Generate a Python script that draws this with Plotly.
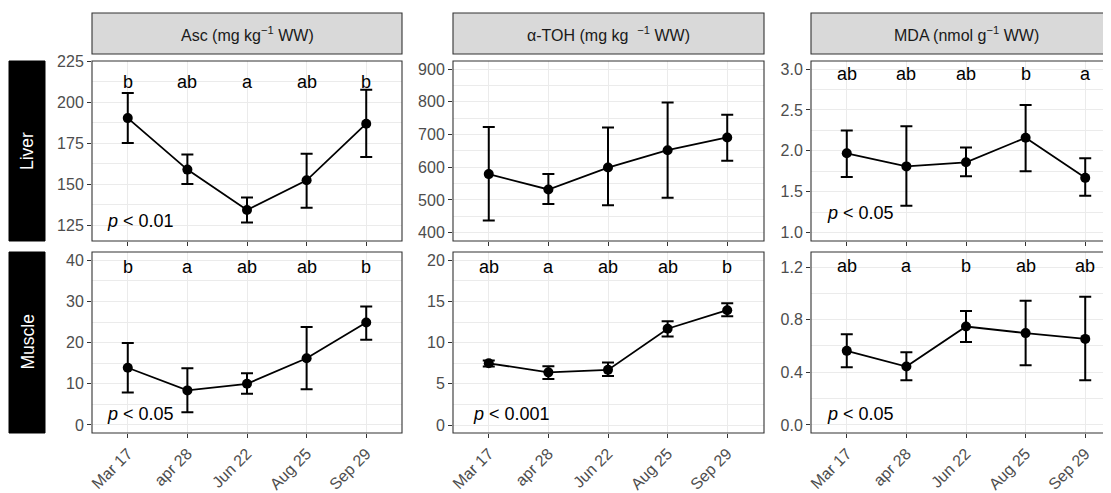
import plotly.graph_objects as go

# page has an 8px body margin; figure sized so it fills the 1111x493 view
OFF = 8
W, H = 1111 - OFF, 493 - OFF

dates = ["Mar 17", "apr 28", "Jun 22", "Aug 25", "Sep 29"]
xpos = [1, 2, 3, 4, 5]

# Liver
asc_liver_mean = [190.2, 158.8, 134.2, 152.3, 186.8]
asc_liver_low = [175.0, 150.0, 126.5, 135.5, 166.5]
asc_liver_high = [205.5, 168.0, 141.8, 168.5, 207.5]
asc_liver_letters = ["b", "ab", "a", "ab", "b"]

toh_liver_mean = [579, 532, 599, 652, 691]
toh_liver_low = [437, 488, 484, 507, 620]
toh_liver_high = [723, 579, 721, 798, 760]
toh_liver_letters = ["", "", "", "", ""]

mda_liver_mean = [1.97, 1.81, 1.86, 2.16, 1.67]
mda_liver_low = [1.68, 1.33, 1.69, 1.75, 1.45]
mda_liver_high = [2.25, 2.30, 2.04, 2.56, 1.91]
mda_liver_letters = ["ab", "ab", "ab", "b", "a"]

# Muscle
asc_muscle_mean = [13.9, 8.4, 10.0, 16.2, 24.9]
asc_muscle_low = [7.9, 3.1, 7.6, 8.7, 20.7]
asc_muscle_high = [19.9, 13.8, 12.6, 23.8, 28.8]
asc_muscle_letters = ["b", "a", "ab", "ab", "b"]

toh_muscle_mean = [7.5, 6.4, 6.7, 11.7, 13.95]
toh_muscle_low = [7.1, 5.6, 5.95, 10.75, 13.2]
toh_muscle_high = [7.85, 7.15, 7.6, 12.6, 14.8]
toh_muscle_letters = ["ab", "a", "ab", "ab", "b"]

mda_muscle_mean = [0.563, 0.444, 0.748, 0.698, 0.654]
mda_muscle_low = [0.439, 0.340, 0.630, 0.454, 0.340]
mda_muscle_high = [0.690, 0.553, 0.865, 0.944, 0.974]
mda_muscle_letters = ["ab", "a", "b", "ab", "ab"]

col_titles = ["Asc (mg kg<sup>−1</sup> WW)", "α-TOH (mg kg  <sup>−1</sup> WW)",
              "MDA (nmol g<sup>−1</sup> WW)"]
row_titles = ["Liver", "Muscle"]
p_texts = [["<i>p</i> < 0.01", "", "<i>p</i> < 0.05"],
           ["<i>p</i> < 0.05", "<i>p</i> < 0.001", "<i>p</i> < 0.05"]]

panels = [
    [(asc_liver_mean, asc_liver_low, asc_liver_high, asc_liver_letters),
     (toh_liver_mean, toh_liver_low, toh_liver_high, toh_liver_letters),
     (mda_liver_mean, mda_liver_low, mda_liver_high, mda_liver_letters)],
    [(asc_muscle_mean, asc_muscle_low, asc_muscle_high, asc_muscle_letters),
     (toh_muscle_mean, toh_muscle_low, toh_muscle_high, toh_muscle_letters),
     (mda_muscle_mean, mda_muscle_low, mda_muscle_high, mda_muscle_letters)],
]

# layout / style settings
y_ranges = [[(115.3, 225.0), (374.6, 924.5), (0.898, 3.098)],
            [(-1.95, 42.04), (-0.97, 21.02), (-0.061, 1.314)]]
y_ticks = [[(125, 25), (400, 100), (1.0, 0.5)],
           [(0, 10), (0, 5), (0.0, 0.4)]]
y_fmt = [["d", "d", ".1f"], ["d", "d", ".1f"]]
letter_y = [[212.0, None, 2.94], [38.5, 19.25, 1.205]]
p_pos = [[(0.62, 127.4), None, (0.64, 1.235)],
         [(0.62, 2.7), (0.70, 1.35), (0.64, 0.084)]]

col_px = [(92, 402), (453, 764), (811, 1111)]
row_px = [(61, 241), (252, 433)]
strip_top_px = (13, 54)
row_strip_px = (9, 45)

FONT = "Liberation Sans, Arial, sans-serif"
TICK_FONT = dict(family=FONT, size=16, color="#4D4D4D")
fig = go.Figure()
layout = {}
shapes = []
annotations = []

def px_x(v):
    return (v - OFF) / W

def px_y(v):
    return 1 - (v - OFF) / H

for r in range(2):
    for c in range(3):
        idx = r * 3 + c + 1
        sfx = "" if idx == 1 else str(idx)
        mean, low, high, letters = panels[r][c]
        fig.add_trace(go.Scatter(
            x=xpos, y=mean, mode="lines+markers",
            line=dict(color="black", width=1.8),
            marker=dict(color="black", size=10),
            error_y=dict(type="data", symmetric=False,
                         array=[h - m for h, m in zip(high, mean)],
                         arrayminus=[m - l for m, l in zip(mean, low)],
                         color="black", thickness=2, width=6),
            xaxis="x" + sfx, yaxis="y" + sfx, showlegend=False,
            hoverinfo="skip"))
        x0, x1 = col_px[c]
        y0, y1 = row_px[r]
        xr1 = 0.4 + (x1 - x0) / 310 * 5.2
        layout["xaxis" + sfx] = dict(
            domain=[px_x(x0), min(1.0, px_x(x1))], range=[0.4, xr1],
            anchor="y" + sfx, tickmode="array", tickvals=xpos,
            ticktext=dates,
            showticklabels=(r == 1), tickangle=-45, automargin=False,
            ticks="outside", ticklen=4, tickwidth=1.1, tickcolor="#333333",
            tickfont=TICK_FONT,
            showgrid=True, gridcolor="#EBEBEB", gridwidth=1.1,
            zeroline=False, showline=False)
        t0, dt = y_ticks[r][c]
        layout["yaxis" + sfx] = dict(
            domain=[px_y(y1), px_y(y0)], range=list(y_ranges[r][c]),
            anchor="x" + sfx, tickmode="linear", tick0=t0, dtick=dt,
            tickformat=y_fmt[r][c], automargin=False,
            ticks="outside", ticklen=4, tickwidth=1.1, tickcolor="#333333",
            tickfont=TICK_FONT,
            showgrid=True, gridcolor="#EBEBEB", gridwidth=1.1,
            minor=dict(showgrid=True, gridcolor="#EBEBEB", gridwidth=0.6,
                       tick0=t0 + dt / 2, dtick=dt, ticks=""),
            zeroline=False, showline=False)
        # panel border
        xb1 = x1 if c < 2 else x0 + 311
        shapes.append(dict(type="rect", xref="paper", yref="paper",
                           x0=px_x(x0), x1=px_x(xb1), y0=px_y(y1), y1=px_y(y0),
                           line=dict(color="#333333", width=1.1),
                           fillcolor="rgba(0,0,0,0)", layer="above"))
        # letters
        if letter_y[r][c] is not None:
            for xi, lt in zip(xpos, letters):
                if lt:
                    annotations.append(dict(
                        x=xi, y=letter_y[r][c], xref="x" + sfx, yref="y" + sfx,
                        text=lt, showarrow=False, xanchor="center",
                        yanchor="middle",
                        font=dict(family=FONT, size=18, color="black")))
        if p_pos[r][c] is not None:
            px_, py_ = p_pos[r][c]
            annotations.append(dict(
                x=px_, y=py_, xref="x" + sfx, yref="y" + sfx,
                text=p_texts[r][c], showarrow=False, xanchor="left",
                yanchor="middle",
                font=dict(family=FONT, size=18, color="black")))

# column strips
for c in range(3):
    x0, x1 = col_px[c]
    xb1 = x1 if c < 2 else x0 + 311
    s0, s1 = strip_top_px
    shapes.append(dict(type="rect", xref="paper", yref="paper",
                       x0=px_x(x0), x1=px_x(xb1), y0=px_y(s1), y1=px_y(s0),
                       line=dict(color="#333333", width=1.1),
                       fillcolor="#D9D9D9", layer="below"))
    annotations.append(dict(
        x=px_x((x0 + xb1) / 2), y=px_y((s0 + s1) / 2), xref="paper",
        yref="paper", text=col_titles[c], showarrow=False,
        xanchor="center", yanchor="middle",
        font=dict(family=FONT, size=16, color="#1A1A1A")))

# row strips
for r in range(2):
    y0, y1 = row_px[r]
    a0, a1 = row_strip_px
    shapes.append(dict(type="rect", xref="paper", yref="paper",
                       x0=px_x(a0), x1=px_x(a1), y0=px_y(y1), y1=px_y(y0),
                       line=dict(color="black", width=1),
                       fillcolor="black", layer="below"))
    annotations.append(dict(
        x=px_x((a0 + a1) / 2), y=px_y((y0 + y1) / 2), xref="paper",
        yref="paper", text=row_titles[r], showarrow=False, textangle=-90,
        xanchor="center", yanchor="middle",
        font=dict(family=FONT, size=17.5, color="white")))

fig.update_layout(
    width=W, height=H, margin=dict(l=0, r=0, t=0, b=0, autoexpand=False),
    paper_bgcolor="white", plot_bgcolor="white",
    shapes=shapes, annotations=annotations, **layout)

fig.write_html("out.html")
